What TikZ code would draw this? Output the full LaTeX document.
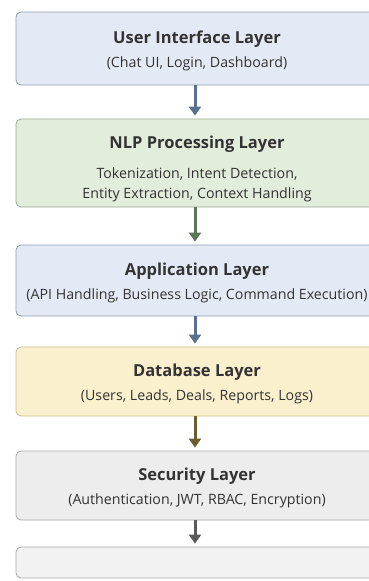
\documentclass[tikz,border=0pt]{standalone}
\usepackage{fontspec}
\setmainfont{Open Sans}
\usetikzlibrary{arrows.meta}

\definecolor{bluefill}{HTML}{E4EAF5}
\definecolor{blueline}{HTML}{8E9BB0}
\definecolor{bluearrow}{HTML}{5B6F8E}
\definecolor{greenfill}{HTML}{E3EDDB}
\definecolor{greenline}{HTML}{9CAB93}
\definecolor{greenarrow}{HTML}{5E7658}
\definecolor{yellowfill}{HTML}{FBF0CD}
\definecolor{yellowline}{HTML}{CDBD8C}
\definecolor{yellowarrow}{HTML}{6B5D2E}
\definecolor{grayfill}{HTML}{EDEDED}
\definecolor{grayline}{HTML}{A9A9A9}
\definecolor{grayarrow}{HTML}{5A5A5A}
\definecolor{textgray}{HTML}{333333}

\newcommand{\layertitle}[2][17pt]{\rule{0pt}{#1}{\fontsize{16.5}{19}\selectfont\bfseries #2}}

\begin{document}
\begin{tikzpicture}[x=1pt, y=1pt,
    layer/.style={draw, rounded corners=5pt, line width=0.8pt, minimum width=362pt,
        align=center, text=textgray, font=\fontsize{14.2}{20}\selectfont},
    flow/.style={line width=3pt, -{Triangle[width=12pt,length=9pt]}, shorten >=3pt}]
    \fill[white] (0,0) rectangle (368,-581);
    \useasboundingbox (0,0) rectangle (368,-581);

    % layers, top to bottom
    \node[layer, fill=bluefill, draw=blueline, minimum height=73pt] (ui) at (197,-48.5)
        {\layertitle{User Interface Layer}\\[4pt](Chat UI, Login, Dashboard)};
    \node[layer, fill=greenfill, draw=greenline, minimum height=88pt] (nlp) at (197,-163)
        {\layertitle[24pt]{NLP Processing Layer}\\[10pt]Tokenization, Intent Detection,\\Entity Extraction, Context Handling};
    \node[layer, fill=bluefill, draw=blueline, minimum height=71pt] (app) at (197,-280.5)
        {\layertitle{Application Layer}\\[4pt](API Handling, Business Logic, Command Execution)};
    \node[layer, fill=yellowfill, draw=yellowline, minimum height=69pt] (db) at (197,-381.5)
        {\layertitle{Database Layer}\\[4pt](Users, Leads, Deals, Reports, Logs)};
    \node[layer, fill=grayfill, draw=grayline, minimum height=69pt] (sec) at (197,-485.5)
        {\layertitle{Security Layer}\\[4pt](Authentication, JWT, RBAC, Encryption)};
    \node[layer, fill=grayfill!70, draw=grayline, minimum height=31pt] (next) at (197,-562.5) {};

    % arrows
    \draw[flow, bluearrow] ([xshift=-2pt]ui.south) -- ([xshift=-2pt]nlp.north);
    \draw[flow, greenarrow] ([xshift=-2pt]nlp.south) -- ([xshift=-2pt]app.north);
    \draw[flow, bluearrow] ([xshift=-2pt]app.south) -- ([xshift=-2pt]db.north);
    \draw[flow, yellowarrow] ([xshift=-2pt]db.south) -- ([xshift=-2pt]sec.north);
    \draw[flow, grayarrow] ([xshift=-2pt]sec.south) -- ([xshift=-2pt]next.north);
\end{tikzpicture}
\end{document}
